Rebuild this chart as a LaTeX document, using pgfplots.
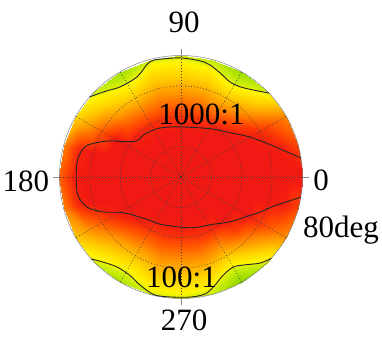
\documentclass[border=0pt]{standalone}
\usepackage{pgfplots}
\pgfplotsset{compat=1.18}
\usepackage{pgfplotstable}
\usepackage{fontspec}
\setmainfont{Liberation Serif}
\pgfplotstableread[row sep=\\]{
t r z \\
0 0 3.5 \\ 0 10 3.5 \\ 0 20 3.5 \\ 0 30 3.5 \\ 0 40 3.5 \\ 0 50 3.43 \\ 0 60 3.33 \\ 0 70 3.24 \\ 0 80 3.14 \\
15 0 3.5 \\ 15 10 3.5 \\ 15 20 3.5 \\ 15 30 3.5 \\ 15 40 3.42 \\ 15 50 3.26 \\ 15 60 3.11 \\ 15 70 2.95 \\ 15 80 2.80 \\
30 0 3.5 \\ 30 10 3.5 \\ 30 20 3.5 \\ 30 30 3.38 \\ 30 40 3.22 \\ 30 50 3.05 \\ 30 60 2.88 \\ 30 70 2.72 \\ 30 80 2.55 \\
45 0 3.5 \\ 45 10 3.5 \\ 45 20 3.5 \\ 45 30 3.32 \\ 45 40 3.05 \\ 45 50 2.78 \\ 45 60 2.51 \\ 45 70 2.24 \\ 45 80 1.97 \\
60 0 3.5 \\ 60 10 3.5 \\ 60 20 3.5 \\ 60 30 3.21 \\ 60 40 2.91 \\ 60 50 2.60 \\ 60 60 2.31 \\ 60 70 2.01 \\ 60 80 1.72 \\
75 0 3.5 \\ 75 10 3.5 \\ 75 20 3.33 \\ 75 30 3.09 \\ 75 40 2.86 \\ 75 50 2.62 \\ 75 60 2.39 \\ 75 70 2.15 \\ 75 80 1.91 \\
90 0 3.5 \\ 90 10 3.5 \\ 90 20 3.29 \\ 90 30 3.07 \\ 90 40 2.85 \\ 90 50 2.63 \\ 90 60 2.41 \\ 90 70 2.19 \\ 90 80 1.96 \\
105 0 3.5 \\ 105 10 3.5 \\ 105 20 3.31 \\ 105 30 3.09 \\ 105 40 2.87 \\ 105 50 2.64 \\ 105 60 2.42 \\ 105 70 2.20 \\ 105 80 1.97 \\
120 0 3.5 \\ 120 10 3.5 \\ 120 20 3.45 \\ 120 30 3.17 \\ 120 40 2.89 \\ 120 50 2.61 \\ 120 60 2.32 \\ 120 70 2.04 \\ 120 80 1.76 \\
135 0 3.5 \\ 135 10 3.5 \\ 135 20 3.44 \\ 135 30 3.19 \\ 135 40 2.94 \\ 135 50 2.69 \\ 135 60 2.44 \\ 135 70 2.19 \\ 135 80 1.94 \\
150 0 3.5 \\ 150 10 3.5 \\ 150 20 3.5 \\ 150 30 3.49 \\ 150 40 3.23 \\ 150 50 2.97 \\ 150 60 2.72 \\ 150 70 2.46 \\ 150 80 2.21 \\
165 0 3.5 \\ 165 10 3.5 \\ 165 20 3.5 \\ 165 30 3.5 \\ 165 40 3.5 \\ 165 50 3.5 \\ 165 60 3.22 \\ 165 70 2.91 \\ 165 80 2.59 \\
180 0 3.5 \\ 180 10 3.5 \\ 180 20 3.5 \\ 180 30 3.5 \\ 180 40 3.5 \\ 180 50 3.5 \\ 180 60 3.25 \\ 180 70 2.97 \\ 180 80 2.69 \\
195 0 3.5 \\ 195 10 3.5 \\ 195 20 3.5 \\ 195 30 3.5 \\ 195 40 3.5 \\ 195 50 3.5 \\ 195 60 3.22 \\ 195 70 2.91 \\ 195 80 2.59 \\
210 0 3.5 \\ 210 10 3.5 \\ 210 20 3.5 \\ 210 30 3.35 \\ 210 40 3.14 \\ 210 50 2.93 \\ 210 60 2.72 \\ 210 70 2.51 \\ 210 80 2.29 \\
225 0 3.5 \\ 225 10 3.5 \\ 225 20 3.45 \\ 225 30 3.20 \\ 225 40 2.95 \\ 225 50 2.70 \\ 225 60 2.45 \\ 225 70 2.20 \\ 225 80 1.95 \\
240 0 3.5 \\ 240 10 3.5 \\ 240 20 3.38 \\ 240 30 3.12 \\ 240 40 2.86 \\ 240 50 2.60 \\ 240 60 2.33 \\ 240 70 2.07 \\ 240 80 1.81 \\
255 0 3.5 \\ 255 10 3.5 \\ 255 20 3.30 \\ 255 30 3.08 \\ 255 40 2.86 \\ 255 50 2.64 \\ 255 60 2.42 \\ 255 70 2.20 \\ 255 80 1.98 \\
270 0 3.5 \\ 270 10 3.5 \\ 270 20 3.28 \\ 270 30 3.07 \\ 270 40 2.85 \\ 270 50 2.63 \\ 270 60 2.41 \\ 270 70 2.20 \\ 270 80 1.98 \\
285 0 3.5 \\ 285 10 3.5 \\ 285 20 3.34 \\ 285 30 3.11 \\ 285 40 2.87 \\ 285 50 2.64 \\ 285 60 2.40 \\ 285 70 2.16 \\ 285 80 1.93 \\
300 0 3.5 \\ 300 10 3.5 \\ 300 20 3.5 \\ 300 30 3.22 \\ 300 40 2.90 \\ 300 50 2.59 \\ 300 60 2.27 \\ 300 70 1.95 \\ 300 80 1.63 \\
315 0 3.5 \\ 315 10 3.5 \\ 315 20 3.5 \\ 315 30 3.36 \\ 315 40 3.08 \\ 315 50 2.81 \\ 315 60 2.53 \\ 315 70 2.25 \\ 315 80 1.97 \\
330 0 3.5 \\ 330 10 3.5 \\ 330 20 3.5 \\ 330 30 3.36 \\ 330 40 3.19 \\ 330 50 3.02 \\ 330 60 2.84 \\ 330 70 2.67 \\ 330 80 2.50 \\
345 0 3.5 \\ 345 10 3.5 \\ 345 20 3.5 \\ 345 30 3.5 \\ 345 40 3.42 \\ 345 50 3.26 \\ 345 60 3.11 \\ 345 70 2.95 \\ 345 80 2.80 \\
360 0 3.5 \\ 360 10 3.5 \\ 360 20 3.5 \\ 360 30 3.5 \\ 360 40 3.5 \\ 360 50 3.43 \\ 360 60 3.33 \\ 360 70 3.24 \\ 360 80 3.14 \\
}\crmap
\pgfplotstableread[row sep=\\]{
t r \\
9 80 \\ 12 74 \\ 18.6 64 \\ 25 57 \\ 31.8 51 \\ 45 42 \\ 56 38 \\ 70 34.5 \\ 91 33 \\ 105 34 \\ 116.6 35.5 \\ 130 37 \\ 140.7 37.6 \\ 148 44 \\ 154 54 \\ 161.7 65.5 \\ 170 69 \\ 180 69 \\ 190 69 \\ 197.7 65 \\ 204 56.5 \\ 210 46.5 \\ 217 41 \\ 224 38 \\ 235 35 \\ 246 34 \\ 269 33 \\ 285 34.5 \\ 304 37.6 \\ 318 44 \\ 329.4 50.7 \\ 336 57 \\ 342.5 63.8 \\ 347 72 \\ 350.5 80 \\
}\ctthousand
\pgfplotstableread[row sep=\\]{
t r \\
43.7 80 \\ 50.4 74.4 \\ 56.8 71 \\ 62.7 70.4 \\ 69.4 73.2 \\ 75.5 76.2 \\ 80.6 77.5 \\ 89 78.3 \\ 94 78.5 \\ 103 79 \\ 106.7 77.5 \\ 113.7 72 \\ 124 71.6 \\ 131 75 \\ 138.7 80 \\
}\cthundredtop
\pgfplotstableread[row sep=\\]{
t r \\
222.4 80 \\ 227.5 76 \\ 234.6 72.7 \\ 242.5 73 \\ 249 76 \\ 257 79.5 \\ 265 79.3 \\ 275 79.3 \\ 282 78.5 \\ 287.5 74.6 \\ 293 70.5 \\ 300 68.5 \\ 306 71.5 \\ 312.6 77 \\ 318 80 \\
}\cthundredbot
\begin{document}
\begin{tikzpicture}
\path[use as bounding box] (-181bp,-161bp) rectangle (201bp,177bp);
\begin{axis}[
  anchor=origin, at={(0,0)},
  x=1.51875bp, y=1.51875bp,
  xmin=-82, xmax=82, ymin=-82, ymax=82,
  hide axis, clip=false,
  colormap={crmap}{rgb255(0pt)=(120,200,0); rgb255(30pt)=(170,225,0); rgb255(45pt)=(205,238,10); rgb255(55pt)=(255,245,0); rgb255(75pt)=(255,210,0); rgb255(100pt)=(255,150,0); rgb255(125pt)=(255,80,0); rgb255(145pt)=(245,30,15); rgb255(150pt)=(240,25,20)},
  point meta min=1.5, point meta max=3.0,
]
\addplot[surf, shader=interp, mesh/rows=25, mesh/cols=9, point meta=explicit]
  table[x expr=\thisrow{r}*cos(\thisrow{t}), y expr=\thisrow{r}*sin(\thisrow{t}), meta=z] {\crmap};
% grid
\foreach \rr in {20,40,60} {
  \edef\tmp{\noexpand\draw[black!75, line width=0.6bp, dash pattern=on 0.9bp off 2.1bp] (axis cs:0,0) circle[radius=\rr];}
  \tmp
}
\foreach \a in {0,30,...,330} {
  \edef\tmp{\noexpand\draw[black!75, line width=0.6bp, dash pattern=on 0.9bp off 2.1bp] (axis cs:0,0) -- (axis cs:{80*cos(\a)},{80*sin(\a)});}
  \tmp
}
\foreach \a in {0,90,180,270} {
  \edef\tmp{\noexpand\draw[black!45, line width=0.6bp] (axis cs:{80*cos(\a)},{80*sin(\a)}) -- (axis cs:{84*cos(\a)},{84*sin(\a)});}
  \tmp
}
\draw[black!50, line width=0.5bp] (axis cs:0,0) circle[radius=80];
\fill[black!80] (axis cs:0,0) circle[radius=0.7];
% contours
\addplot[black!85, line width=0.9bp, smooth] table[x expr=\thisrow{r}*cos(\thisrow{t}), y expr=\thisrow{r}*sin(\thisrow{t})] {\ctthousand};
\addplot[black!85, line width=0.9bp, smooth] table[x expr=\thisrow{r}*cos(\thisrow{t}), y expr=\thisrow{r}*sin(\thisrow{t})] {\cthundredtop};
\addplot[black!85, line width=0.9bp, smooth] table[x expr=\thisrow{r}*cos(\thisrow{t}), y expr=\thisrow{r}*sin(\thisrow{t})] {\cthundredbot};
\end{axis}
\begin{scope}[every node/.style={inner sep=0pt, font=\fontsize{31bp}{36bp}\selectfont}]
\node[anchor=base] at (3bp,144bp) {90};
\node[anchor=base] at (-155bp,-14bp) {180};
\node[anchor=base] at (140bp,-13bp) {0};
\node[anchor=base] at (3bp,-153.5bp) {270};
\node[anchor=base west] at (122bp,-60bp) {80deg};
\node[anchor=base] at (20.5bp,52bp) {1000:1};
\node[anchor=base] at (0.5bp,-110bp) {100:1};
\end{scope}
\end{tikzpicture}
\end{document}
